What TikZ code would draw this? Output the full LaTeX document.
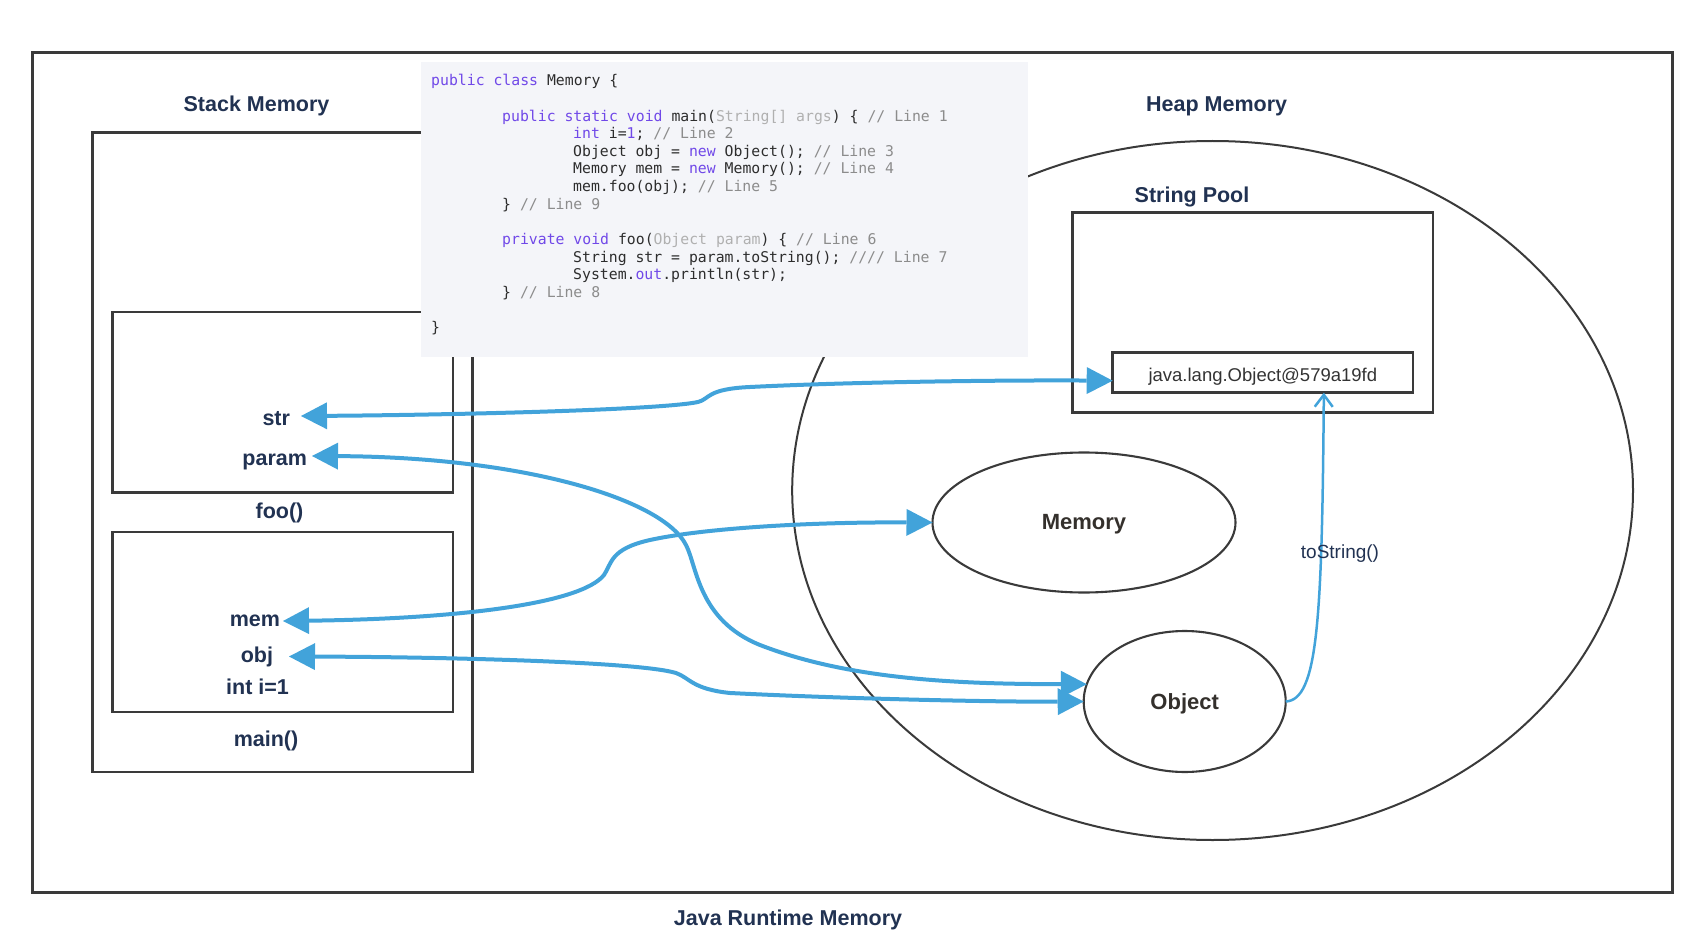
\documentclass[tikz,border=0pt]{standalone}
\usepackage{fontspec}
\setmainfont{Liberation Sans}
\newfontfamily\codefont{DejaVu Sans Mono}
\usetikzlibrary{arrows.meta,shapes.geometric}
\definecolor{navy}{RGB}{33,50,82}
\definecolor{ink}{RGB}{51,51,51}
\definecolor{dark}{RGB}{52,48,44}
\definecolor{edge}{RGB}{58,58,58}
\definecolor{arrowblue}{RGB}{66,163,218}
\definecolor{codebg}{RGB}{244,245,249}
\definecolor{kw}{RGB}{112,72,232}
\definecolor{cmt}{RGB}{140,140,140}
\definecolor{dimtxt}{RGB}{176,176,176}
\definecolor{ctext}{RGB}{45,45,45}
\begin{document}
\begin{tikzpicture}[x=1pt,y=-1pt,
  box/.style={draw=edge, line width=2.6pt, inner sep=0pt, outer sep=0pt},
  oval/.style={draw=edge, line width=2.1pt, ellipse, inner sep=0pt, outer sep=0pt},
  heading/.style={font=\fontsize{21.5}{24}\selectfont\bfseries, text=navy, inner sep=0pt},
  var/.style={font=\fontsize{21.5}{24}\selectfont\bfseries, text=navy, inner ysep=0pt, text height=15pt, text depth=4pt, outer sep=0pt},
  code/.style={anchor=base west, inner sep=0pt, text=ctext, font=\codefont\fontsize{14.8}{17}\selectfont\frenchspacing},
  arr/.style={draw=arrowblue, line width=4pt, arrows={Triangle[length=26pt,width=27pt,line width=0pt]-Triangle[length=26pt,width=27pt,line width=0pt]}},
  thinarr/.style={draw=arrowblue, line width=2.5pt, arrows={-Straight Barb[length=12pt,width=18pt]}}
]
\useasboundingbox (0,0) rectangle (1698,952);

% frames
\node[box, line width=3pt, minimum width=1640.2pt, minimum height=839.6pt] (frame) at (852.6,472.5) {};
\node[box, minimum width=380pt, minimum height=639.5pt] (stack) at (282.7,452.25) {};
\node[box, minimum width=340.5pt, minimum height=180.6pt] (foo) at (282.75,402.3) {};
\node[box, minimum width=340.5pt, minimum height=180.2pt] (mainb) at (282.75,621.9) {};

\node[oval, line width=2pt, minimum width=840.8pt, minimum height=699pt] (heap) at (1212.6,490.5) {};
\node[box, minimum width=360.3pt, minimum height=200pt] (pool) at (1252.85,312.7) {};
\node[box, minimum width=300.3pt, minimum height=40pt, font=\fontsize{18.5}{20}\selectfont, text=ink, text height=21pt, text depth=4pt] (sobj) at (1262.85,372.7) {java.lang.Object@579a19fd};
\node[oval, minimum width=303pt, minimum height=140pt, font=\fontsize{22}{24}\selectfont\bfseries, text=dark, text height=18.4pt, text depth=4.6pt] (memo) at (1084,522.5) {Memory};
\node[oval, minimum width=202pt, minimum height=141pt, font=\fontsize{22}{24}\selectfont\bfseries, text=dark, text height=20.8pt, text depth=4.6pt] (objo) at (1184.7,701.5) {Object};

% headings
\node[heading] (hstack) at (256.5,106) {Stack Memory};
\node[heading] (hheap) at (1216.7,106.5) {Heap Memory};
\node[heading] (hpool) at (1192,197) {String Pool};
\node[heading] (hjava) at (788,919.5) {Java Runtime Memory};
\node[heading] (lfoo) at (279.5,513) {foo()};
\node[heading] (lmain) at (266,741) {main()};

% stack variables
\node[var, anchor=east, inner xsep=11pt, text height=23.5pt] (str) at (301,416) {str};
\node[var, anchor=east, inner xsep=5pt, text height=23.5pt] (param) at (312,456) {param};
\node[var, anchor=east, inner xsep=3pt] (mem) at (283,621) {mem};
\node[var, anchor=east, inner xsep=16pt] (obj) at (289,656.5) {obj};
\node[var] (inti) at (257.5,688.5) {int i=1};

% code box
\node[fill=codebg, minimum width=606.8pt, minimum height=295.7pt, inner sep=0pt, outer sep=0pt] (codebox) at (724.4,209.6) {};
\node[code] (c1) at (431,86) {\textcolor{kw}{public class} Memory \{};
\node[code] (c2) at (502,121.2) {\textcolor{kw}{public static void} main(\textcolor{dimtxt}{String[] args}) \{ \textcolor{cmt}{// Line 1}};
\node[code] (c3) at (573,138.8) {\textcolor{kw}{int} i=\textcolor{kw}{1}; \textcolor{cmt}{// Line 2}};
\node[code] (c4) at (573,156.4) {Object obj = \textcolor{kw}{new} Object(); \textcolor{cmt}{// Line 3}};
\node[code] (c5) at (573,174) {Memory mem = \textcolor{kw}{new} Memory(); \textcolor{cmt}{// Line 4}};
\node[code] (c6) at (573,191.6) {mem.foo(obj); \textcolor{cmt}{// Line 5}};
\node[code] (c7) at (502,209.2) {\} \textcolor{cmt}{// Line 9}};
\node[code] (c8) at (502,244.4) {\textcolor{kw}{private void} foo(\textcolor{dimtxt}{Object param}) \{ \textcolor{cmt}{// Line 6}};
\node[code] (c9) at (573,262) {String str = param.toString(); \textcolor{cmt}{//// Line 7}};
\node[code] (c10) at (573,279.6) {System.\textcolor{kw}{out}.println(str);};
\node[code] (c11) at (502,297.2) {\} \textcolor{cmt}{// Line 8}};
\node[code] (c12) at (431,332.4) {\}};

% connectors
\draw[arr] (str.east) .. controls (450,415) and (660,410) .. (698,402)
  .. controls (710,399) and (706,389) .. (750,387)
  .. controls (850,382) and (1000,380) .. ([yshift=-8pt]sobj.west);
\draw[arr] (param.east) .. controls (520,457) and (662,498) .. (686,545)
  .. controls (697,566) and (698,620) .. (760,645)
  .. controls (850,680) and (960,684) .. (objo.170);
\draw[arr] (mem.east) .. controls (450,619) and (580,605) .. (604,575)
  .. controls (612,563) and (610,549) .. (650,540)
  .. controls (700,529) and (800,522) .. (memo.west);
\draw[arr] (obj.east) .. controls (450,657) and (640,662) .. (676,673)
  .. controls (690,678) and (692,689) .. (730,693)
  .. controls (850,699) and (1000,702) .. (objo.west);
\draw[thinarr] (objo.east) .. controls (1318,700) and (1322,620) .. ([xshift=61pt]sobj.south);
\node[font=\fontsize{19}{21}\selectfont, text=navy, inner sep=0pt] (tostr) at (1340,554) {toString()};
\end{tikzpicture}
\end{document}
